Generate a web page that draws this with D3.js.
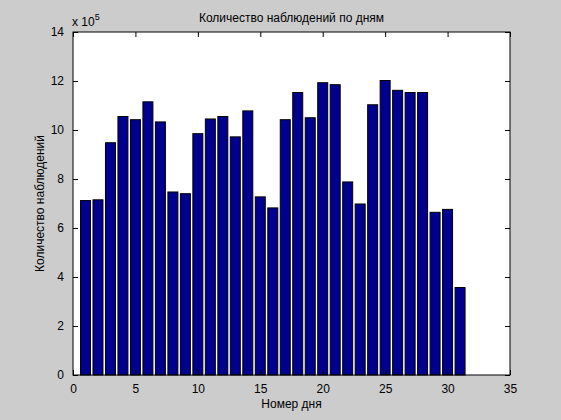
<!DOCTYPE html>
<html><head><meta charset="utf-8">
<script src="https://cdn.jsdelivr.net/npm/d3@7"></script>
<style>body{margin:0;background:#ccc}svg{display:block}text{font-family:"Liberation Sans",Arial,sans-serif;font-size:12px;fill:#000}</style>
</head><body><svg id="c" width="561" height="420"></svg>
<script>
"use strict";
const days = d3.range(1, 32);
const counts = [7.12, 7.15, 9.48, 10.55, 10.42, 11.15, 10.33, 7.47, 7.4, 9.85, 10.45, 10.55, 9.72, 10.78, 7.27, 6.82, 10.42, 11.53, 10.5, 11.93, 11.85, 7.88, 6.98, 11.03, 12.02, 11.62, 11.53, 11.53, 6.64, 6.76, 3.57];
const xTicks = [0, 5, 10, 15, 20, 25, 30, 35];
const yTicks = [0, 2, 4, 6, 8, 10, 12, 14];

const svg = d3.select("#c");
const mLeft = 73, mRight = 510, mTop = 32, mBottom = 375;
const x = d3.scaleLinear().domain([0, 35]).range([mLeft, mRight]);
const y = d3.scaleLinear().domain([0, 14]).range([mBottom, mTop]);

svg.append("rect").attr("x", mLeft).attr("y", mTop).attr("width", mRight - mLeft).attr("height", mBottom - mTop).attr("fill", "#fff");

svg.selectAll(".bar").data(days).enter().append("rect")
  .attr("x", (d) => x(d - 0.4))
  .attr("y", (d, i) => y(counts[i]))
  .attr("width", x(0.8) - x(0))
  .attr("height", (d, i) => y(0) - y(counts[i]))
  .attr("fill", "#00008f").attr("stroke", "#000").attr("stroke-width", 1);

const tick = 5;
svg.append("g").attr("transform", `translate(0,${mBottom})`)
  .call(d3.axisBottom(x).tickValues(xTicks).tickSize(-tick).tickPadding(tick + 4))
  .call((g) => g.select(".domain").remove());
svg.append("g").attr("transform", `translate(0,${mTop})`)
  .call(d3.axisTop(x).tickValues(xTicks).tickSize(-tick).tickFormat(""))
  .call((g) => g.select(".domain").remove());
svg.append("g").attr("transform", `translate(${mLeft},0)`)
  .call(d3.axisLeft(y).tickValues(yTicks).tickSize(-tick).tickPadding(tick + 4))
  .call((g) => g.select(".domain").remove());
svg.append("g").attr("transform", `translate(${mRight},0)`)
  .call(d3.axisRight(y).tickValues(yTicks).tickSize(-tick).tickFormat(""))
  .call((g) => g.select(".domain").remove());
svg.selectAll(".tick text").style("font-size", "12px").style("font-family", "Liberation Sans, Arial, sans-serif");

svg.append("rect").attr("x", mLeft).attr("y", mTop).attr("width", mRight - mLeft).attr("height", mBottom - mTop)
  .attr("fill", "none").attr("stroke", "#000");

svg.append("text").attr("x", (mLeft + mRight) / 2).attr("y", 22).attr("text-anchor", "middle").text("Количество наблюдений по дням");
svg.append("text").attr("x", (mLeft + mRight) / 2).attr("y", 408).attr("text-anchor", "middle").text("Номер дня");
svg.append("text").attr("transform", `translate(44,${(mTop + mBottom) / 2}) rotate(-90)`).attr("text-anchor", "middle").text("Количество наблюдений");
const ex = svg.append("text").attr("x", 72).attr("y", 26);
ex.append("tspan").text("x 10");
ex.append("tspan").attr("dy", -6).style("font-size", "9px").text("5");
</script></body></html>
